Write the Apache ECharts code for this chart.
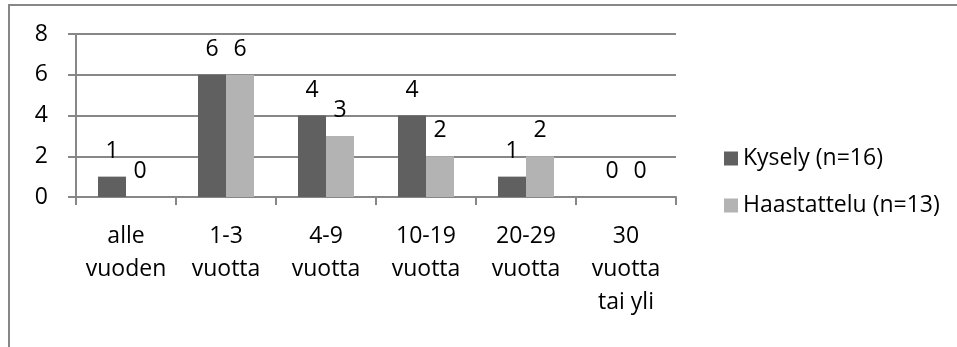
<!DOCTYPE html>
<html>
<head>
<meta charset="utf-8">
<script src="https://cdn.jsdelivr.net/npm/echarts@6/dist/echarts.min.js"></script>
<style>
  html, body { margin: 0; padding: 0; background: #fff; }
  #chart { width: 957px; height: 347px; }
</style>
</head>
<body>
<div id="chart"></div>
<script>
// Työvuodet: kyselyn ja haastattelujen vastaajamäärät
const categories = ['alle\nvuoden', '1-3\nvuotta', '4-9\nvuotta', '10-19\nvuotta', '20-29\nvuotta', '30\nvuotta\ntai yli'];
const kysely = [1, 6, 4, 4, 1, 0];
const haastattelu = [0, 6, 3, 2, 2, 0];
const seriesNames = ['Kysely (n=16)', 'Haastattelu (n=13)'];
const yTicks = { min: 0, max: 8, interval: 2 };

const FONT = 'Open Sans';
const FS = 23;
const axisGray = '#878787';

const chart = echarts.init(document.getElementById('chart'), null, { renderer: 'canvas' });

const labelStyle = {
  show: true,
  position: 'top',
  distance: 14,
  color: '#000',
  fontFamily: FONT,
  fontSize: FS
};

chart.setOption({
  animation: false,
  backgroundColor: '#fff',
  textStyle: { fontFamily: FONT },
  graphic: [{
    type: 'rect',
    shape: { x: 9, y: 5, width: 1000, height: 400 },
    style: { fill: 'none', stroke: axisGray, lineWidth: 2 },
    silent: true
  }],
  grid: { left: 76, top: 34, width: 600, height: 163 },
  legend: {
    orient: 'vertical',
    left: 719,
    top: 142,
    itemWidth: 14,
    itemHeight: 14,
    itemGap: 24,
    icon: 'rect',
    textStyle: { fontFamily: FONT, fontSize: FS, color: '#000', lineHeight: 23 },
    data: seriesNames
  },
  xAxis: {
    type: 'category',
    data: categories,
    boundaryGap: true,
    axisLine: { show: true, lineStyle: { color: axisGray, width: 2 } },
    axisTick: { show: true, length: 8, alignWithLabel: false, lineStyle: { color: axisGray, width: 2 } },
    axisLabel: {
      margin: 23,
      color: '#000',
      fontFamily: FONT,
      fontSize: FS,
      lineHeight: 33,
      interval: 0
    }
  },
  yAxis: {
    type: 'value',
    min: yTicks.min,
    max: yTicks.max,
    interval: yTicks.interval,
    axisLine: { show: true, lineStyle: { color: axisGray, width: 2 } },
    axisTick: { show: true, length: 8, lineStyle: { color: axisGray, width: 2 } },
    splitLine: { show: true, lineStyle: { color: axisGray, width: 2 } },
    axisLabel: {
      margin: 28,
      color: '#000',
      fontFamily: FONT,
      fontSize: FS
    }
  },
  series: [
    {
      name: seriesNames[0],
      type: 'bar',
      data: kysely,
      barWidth: 28,
      barGap: '0%',
      itemStyle: { color: '#606060' },
      label: labelStyle
    },
    {
      name: seriesNames[1],
      type: 'bar',
      data: haastattelu,
      barWidth: 28,
      barGap: '0%',
      itemStyle: { color: '#b3b3b3' },
      label: labelStyle
    }
  ]
});
</script>
</body>
</html>
